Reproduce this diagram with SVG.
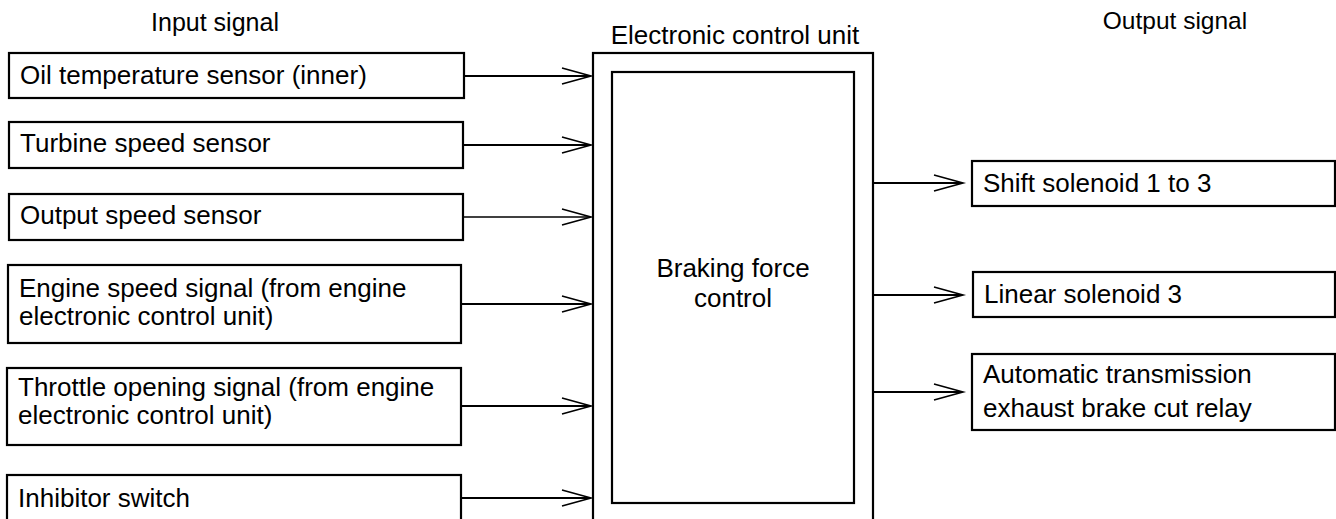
<svg xmlns="http://www.w3.org/2000/svg" width="1336" height="519" viewBox="0 0 1336 519">
<style>
  text { font-family: "Liberation Sans", Arial, sans-serif; font-size: 26px; fill: #000; }
  .box { fill: none; stroke: #000; stroke-width: 2.2; }
  .wire { fill: none; stroke: #000; stroke-width: 2; }
  .thin { fill: none; stroke: #000; stroke-width: 1.3; }
  .head { fill: none; stroke: #000; stroke-width: 1.6; }
  .title { text-anchor: middle; }
</style>
<rect width="1336" height="519" fill="#fff"/>
<g id="titles">
  <text class="title" x="215" y="31" style="font-size:25px">Input signal</text>
  <text class="title" x="735" y="44">Electronic control unit</text>
  <text class="title" x="1175" y="29" style="font-size:24.5px">Output signal</text>
</g>
<g id="in1"><rect class="box" x="9" y="53" width="455" height="45"/><text x="20" y="84">Oil temperature sensor (inner)</text></g>
<g id="in2"><rect class="box" x="9" y="122" width="454" height="46"/><text x="20" y="152">Turbine speed sensor</text></g>
<g id="in3"><rect class="box" x="9" y="194" width="454" height="46"/><text x="20" y="224">Output speed sensor</text></g>
<g id="in4"><rect class="box" x="8" y="265" width="453" height="78"/><text x="19" y="297">Engine speed signal (from engine</text><text x="19" y="325">electronic control unit)</text></g>
<g id="in5"><rect class="box" x="7" y="368" width="454" height="77"/><text x="18" y="396">Throttle opening signal (from engine</text><text x="18" y="424">electronic control unit)</text></g>
<g id="in6"><rect class="box" x="7" y="475" width="454" height="70"/><text x="18" y="507">Inhibitor switch</text></g>
<g id="ecu">
  <rect class="box" x="593" y="53" width="280" height="490"/>
</g>
<g id="braking">
  <rect class="box" x="612" y="72" width="242" height="431"/>
  <text class="title" x="733" y="277">Braking force</text>
  <text class="title" x="733" y="307">control</text>
</g>
<g id="out1"><rect class="box" x="972" y="161" width="363" height="45"/><text x="983" y="192">Shift solenoid 1 to 3</text></g>
<g id="out2"><rect class="box" x="973" y="272" width="362" height="45"/><text x="984" y="303">Linear solenoid 3</text></g>
<g id="out3"><rect class="box" x="972" y="354" width="363" height="76"/><text x="983" y="383">Automatic transmission</text><text x="983" y="417">exhaust brake cut relay</text></g>
<g id="connectors">
  <path class="wire" d="M464 76H590M463 145H590M461 304H590M461 406H590M461 498H590"/>
  <path class="thin" d="M463 217H590"/>
  <path class="head" d="M562 68L591 76L562 84M562 137L591 145L562 153M562 209L591 217L562 225M562 296L591 304L562 312M562 398L591 406L562 414M562 490L591 498L562 506"/>
  <path class="wire" d="M873 183H962M873 295H962M873 392H962"/>
  <path class="head" d="M934 175L963 183L934 191M934 287L963 295L934 303M934 384L963 392L934 400"/>
</g>
</svg>
